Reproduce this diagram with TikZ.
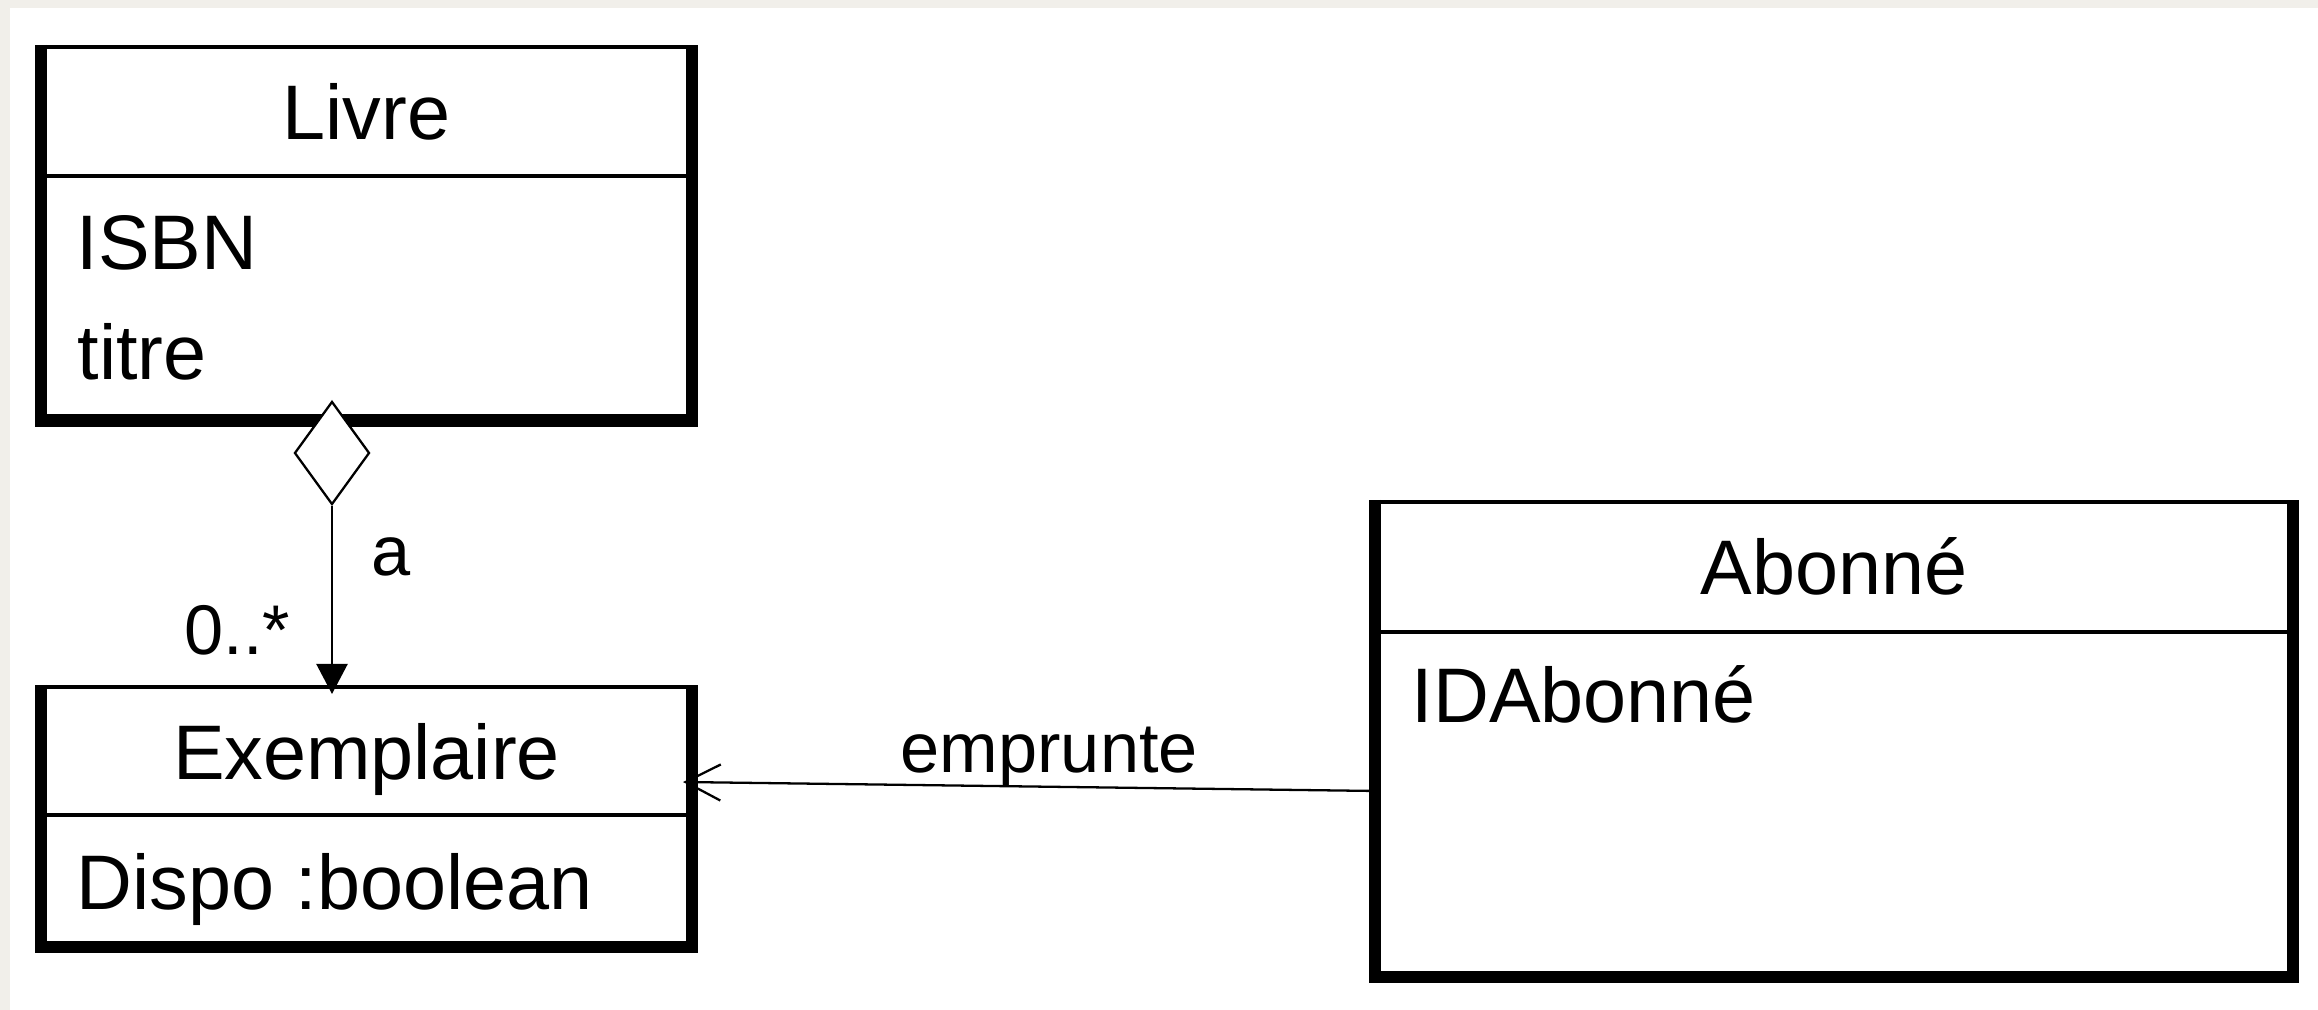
\documentclass[tikz,border=0pt]{standalone}
\usepackage{fontspec}
\setmainfont{Liberation Sans}
\usetikzlibrary{arrows.meta,shapes.geometric}
\definecolor{pagebeige}{HTML}{F1EFEA}
\begin{document}
\begin{tikzpicture}[x=0.01cm,y=-0.01cm,
  classbox/.style={draw=black,line width=1.1pt,fill=white,inner sep=0pt,rectangle},
  thickedge/.style={draw=black,line width=3.5pt,line join=miter},
  thinedge/.style={draw=black,line width=1.1pt},
  ctext/.style={inner sep=0pt,font=\fontsize{22}{26}\selectfont},
  ltext/.style={inner sep=0pt,font=\fontsize{20}{24}\selectfont},
  conn/.style={draw=black,line width=0.65pt},
  aggdiamond/.style={diamond,draw=black,line width=0.65pt,fill=white,inner sep=0pt,minimum width=0.75cm,minimum height=1.03cm}
]
% background
\fill[pagebeige] (0,0) rectangle (2318,1010);
\fill[white] (10,8) rectangle (2318,1010);
\useasboundingbox (0,0) rectangle (2318,1010);

% class boxes
\node[classbox,minimum width=6.47cm,minimum height=3.715cm] (livre) at (366.5,232.75) {};
\node[classbox,minimum width=6.47cm,minimum height=2.58cm] (exemplaire) at (366.5,816) {};
\node[classbox,minimum width=9.14cm,minimum height=4.73cm] (abonne) at (1834,738.5) {};

% compartment dividers
\coordinate (ldiv) at (0,176);
\coordinate (ediv) at (0,815);
\coordinate (adiv) at (0,632);
\draw[thinedge] (livre.west |- ldiv) -- (livre.east |- ldiv);
\draw[thinedge] (exemplaire.west |- ediv) -- (exemplaire.east |- ediv);
\draw[thinedge] (abonne.west |- adiv) -- (abonne.east |- adiv);

% thick edges (left, bottom, right)
\draw[thickedge] (livre.north west) -- (livre.south west) -- (livre.south east) -- (livre.north east);
\draw[thickedge] (exemplaire.north west) -- (exemplaire.south west) -- (exemplaire.south east) -- (exemplaire.north east);
\draw[thickedge] (abonne.north west) -- (abonne.south west) -- (abonne.south east) -- (abonne.north east);

% texts
\node[ctext,anchor=base] (livret) at (366.5,140) {Livre};
\node[ctext,anchor=base west] (isbn) at (76,270) {ISBN};
\node[ctext,anchor=base west] (titre) at (77,380) {titre};
\node[ctext,anchor=base] (exemplairet) at (366.5,779) {Exemplaire};
\node[ctext,anchor=base west] (dispo) at (76,909) {Dispo :boolean};
\node[ctext,anchor=base] (abonnet) at (1834,595) {Abonné};
\node[ctext,anchor=base west] (idabonne) at (1411,723) {IDAbonné};

% aggregation Livre - Exemplaire
\node[aggdiamond] (agg) at (332,453) {};
\coordinate (aggtip) at (332,694);
\draw[conn,-{Triangle[width=0.31cm,length=0.3cm]}] (agg.south) -- (aggtip);
\node[ltext,anchor=base west] (la) at (371,576) {a};
\node[ltext,anchor=base west] (lmult) at (184,655) {0..*};

% association emprunte
\coordinate (empS) at (1377,791);
\coordinate (empE) at (683,782);
\draw[conn,-{Straight Barb[length=0.35cm,width=0.36cm]}] (empS) -- (empE);
\node[ltext,anchor=base west] (lemp) at (900,772) {emprunte};
\end{tikzpicture}
\end{document}
